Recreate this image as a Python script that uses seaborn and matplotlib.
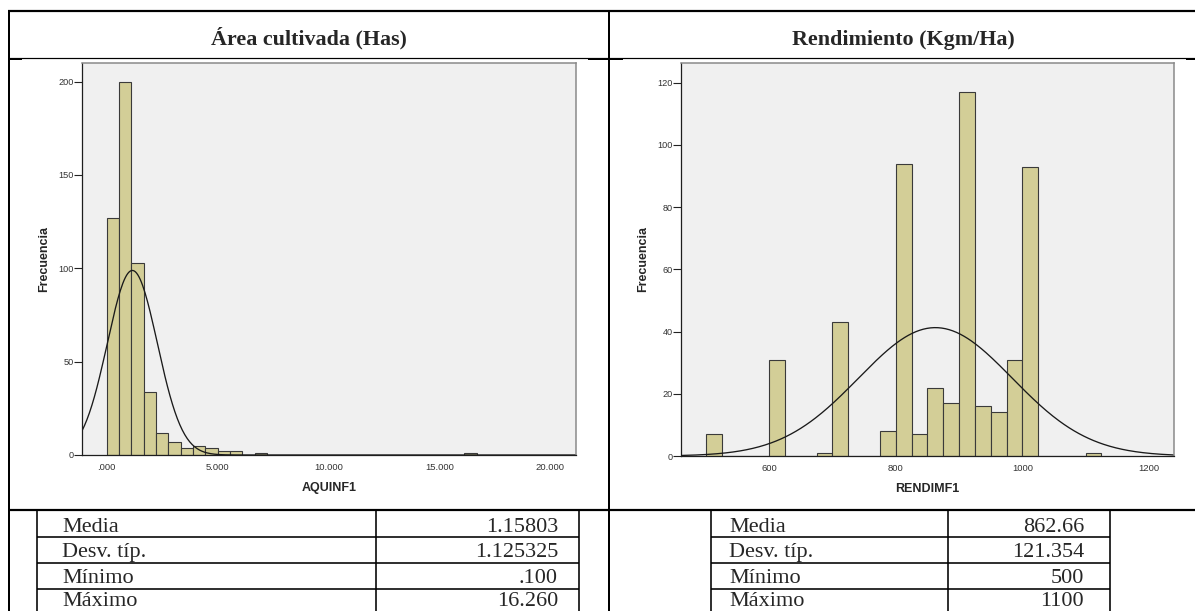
import numpy as np
import pandas as pd
import matplotlib
matplotlib.use("Agg")
import matplotlib.pyplot as plt
import seaborn as sns
from matplotlib.ticker import FixedLocator, FuncFormatter

# ---- data -------------------------------------------------------------
# Área cultivada (Has): frequencies per bin, bins of width 5/9 starting at 0
area_bin_width = 5 / 9
area_counts = [127, 200, 103, 34, 12, 7, 4, 5, 4, 2, 2, 0, 1,
               0, 0, 0, 0, 0, 0, 0, 0, 0, 0, 0, 0, 0, 0, 0, 0, 1]
area_mean = 1.15803
area_sd = 1.125325

# Rendimiento (Kgm/Ha): frequencies per bin, bins of width 25 starting at 500
rend_bin_width = 25
rend_counts = [7, 0, 0, 0, 31, 0, 0, 1, 43, 0, 0, 8, 94, 7, 22, 17,
               117, 16, 14, 31, 93, 0, 0, 0, 1]
rend_mean = 862.66
rend_sd = 121.354

stat_labels = ["Media", "Desv. típ.", "Mínimo", "Máximo"]
area_stats = ["1.15803", "1.125325", ".100", "16.260"]
rend_stats = ["862.66", "121.354", "500", "1100"]

area_titles = ("Área cultivada (Has)", "AQUINF1")
rend_titles = ("Rendimiento (Kgm/Ha)", "RENDIMF1")

# ---- style ------------------------------------------------------------
sns.set_theme(style="white")
plt.rcParams["font.family"] = ["Liberation Sans", "DejaVu Sans"]

BAR = "#D3CE97"
PANEL = "#F0F0F0"
W, H = 1195, 611
fig = plt.figure(figsize=(W / 100, H / 100), dpi=100)


def px_axes(x0, y0, x1, y1):
    return fig.add_axes([x0 / W, 1 - y1 / H, (x1 - x0) / W, (y1 - y0) / H])


def histogram(ax, start, width, counts, mean, sd, xlim, ylim, xticks, yticks,
              xfmt, xlabel):
    counts = np.asarray(counts, dtype=float)
    edges = start + width * np.arange(len(counts) + 1)
    frame = pd.DataFrame({"value": (edges[:-1] + edges[1:]) / 2, "freq": counts})
    sns.histplot(data=frame, x="value", weights="freq", binwidth=width,
                 binrange=(edges[0], edges[-1]), ax=ax,
                 color=BAR, edgecolor="#3a3a3a", linewidth=0.8, alpha=1)
    xs = np.linspace(xlim[0], xlim[1], 400)
    n = counts.sum()
    ys = n * width / (sd * np.sqrt(2 * np.pi)) * np.exp(-0.5 * ((xs - mean) / sd) ** 2)
    sns.lineplot(x=xs, y=ys, ax=ax, color="#1a1a1a", linewidth=0.95)
    ax.set_xlim(*xlim)
    ax.set_ylim(*ylim)
    ax.set_facecolor(PANEL)
    ax.xaxis.set_major_locator(FixedLocator(xticks))
    ax.yaxis.set_major_locator(FixedLocator(yticks))
    ax.xaxis.set_major_formatter(FuncFormatter(xfmt))
    ax.yaxis.set_major_formatter(FuncFormatter(lambda v, p: f"{v:.0f}"))
    ax.tick_params(axis="y", length=5.5, width=0.8, color="#222222",
                   labelsize=6.6, labelcolor="#333333", pad=0.5, left=True)
    ax.tick_params(axis="x", length=0, labelsize=6.8, labelcolor="#333333", pad=6)
    for s in ("top", "right"):
        ax.spines[s].set_color("#8a8a8a")
        ax.spines[s].set_linewidth(1.1)
    for s in ("left", "bottom"):
        ax.spines[s].set_color("#1e1e1e")
        ax.spines[s].set_linewidth(0.9)
    ax.set_xlabel(xlabel, fontsize=9, fontweight="bold", va="center")
    ax.set_ylabel("Frecuencia", fontsize=9, fontweight="bold", va="center")
    h = ax.get_position().height * H
    w = ax.get_position().width * W
    ax.xaxis.set_label_coords(0.5, -33 / h)
    ax.yaxis.set_label_coords(-38 / w, 0.5)


def area_fmt(v, p):
    s = f"{v:.3f}"
    return s[1:] if s.startswith("0") else s


ax1 = px_axes(82, 63, 576, 455)
histogram(ax1, 0.0, area_bin_width, area_counts, area_mean, area_sd,
          (-1.11, 21.15), (0, 210), [0, 5, 10, 15, 20], [0, 50, 100, 150, 200],
          area_fmt, area_titles[1])

ax2 = px_axes(681, 63, 1174, 456)
histogram(ax2, 500.0, rend_bin_width, rend_counts, rend_mean, rend_sd,
          (461, 1239.5), (0, 126.3), [600, 800, 1000, 1200],
          [0, 20, 40, 60, 80, 100, 120], lambda v, p: f"{v:.0f}", rend_titles[1])

# ---- surrounding table ------------------------------------------------
bg = fig.add_axes([0, 0, 1, 1], zorder=-1)
bg.set_xlim(0, W)
bg.set_ylim(H, 0)
bg.axis("off")

lw = 0.72  # points per pixel


def hline(y, x0, x1, t):
    bg.plot([x0, x1], [y, y], color="black", linewidth=t * lw, solid_capstyle="butt")


def vline(x, y0, y1, t):
    bg.plot([x, x], [y0, y1], color="black", linewidth=t * lw, solid_capstyle="butt")


hline(11, 8, W, 2.2)
vline(9, 10, H, 2.0)
vline(609, 10, H, 2.0)
hline(57.5, 9, W, 1.2)
hline(59, 9, 22, 2.0)
hline(59, 588, 623, 2.0)
hline(59, 1186, W, 2.0)
hline(510, 8, W, 2.2)

serif = ["Liberation Serif", "DejaVu Serif"]
bg.text(309, 44.5, area_titles[0], ha="center", va="baseline", fontsize=15.8,
        fontweight="bold", family=serif)
bg.text(903, 44.5, rend_titles[0], ha="center", va="baseline", fontsize=15.8,
        fontweight="bold", family=serif)

row_lines = [510, 537, 562.5, 588.5, 614]
row_baselines = [531.5, 557, 583, 605.5]


def stats_table(x0, xdiv, x1, values, label_x, value_x):
    vline(x0, 510, H, 1.6)
    vline(xdiv, 510, H, 1.6)
    vline(x1, 510, H, 1.6)
    for y in row_lines[1:-1]:
        hline(y, x0, x1, 1.6)
    for yb, lab, val in zip(row_baselines, stat_labels, values):
        bg.text(label_x, yb, lab, ha="left", va="baseline", fontsize=16.0, family=serif)
        bg.text(value_x, yb, val, ha="right", va="baseline", fontsize=16.0, family=serif)


stats_table(37, 376, 579, area_stats, 62, 558)
stats_table(711, 948, 1110, rend_stats, 729, 1084)

fig.savefig("out.png", dpi=100)
